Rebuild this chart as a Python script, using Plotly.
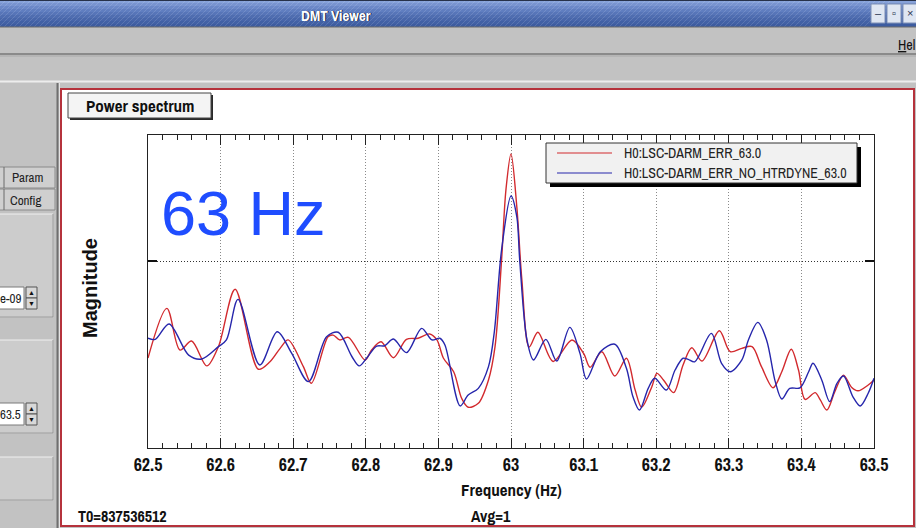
import plotly.graph_objects as go

W, H = 916, 528

# ---- spectrum samples (frequency in Hz, magnitude in display units) ----
freq_err = [62.500, 62.526, 62.544, 62.560, 62.581, 62.597, 62.620, 62.652, 62.668, 62.682,
            62.693, 62.714, 62.725, 62.748, 62.755, 62.764, 62.776, 62.799, 62.808, 62.821,
            62.838, 62.856, 62.872, 62.888, 62.898, 62.907, 62.921, 62.932, 62.941, 62.955,
            62.969, 62.978, 62.987, 62.993, 63.000, 63.008, 63.015, 63.025, 63.037, 63.058,
            63.084, 63.100, 63.109, 63.125, 63.143, 63.159, 63.171, 63.180, 63.194, 63.201,
            63.210, 63.224, 63.237, 63.249, 63.263, 63.287, 63.302, 63.318, 63.332, 63.345,
            63.361, 63.373, 63.386, 63.396, 63.405, 63.419, 63.426, 63.435, 63.446, 63.458,
            63.469, 63.478, 63.492, 63.500]
mag_err = [0.481, 0.747, 0.524, 0.572, 0.439, 0.542, 0.849, 0.421, 0.461, 0.533,
           0.578, 0.435, 0.346, 0.595, 0.604, 0.578, 0.592, 0.471, 0.524, 0.568,
           0.483, 0.581, 0.587, 0.610, 0.578, 0.480, 0.408, 0.266, 0.218, 0.239,
           0.364, 0.542, 1.005, 1.380, 1.572, 1.290, 0.898, 0.540, 0.619, 0.463,
           0.578, 0.506, 0.432, 0.515, 0.385, 0.480, 0.310, 0.218, 0.328, 0.399,
           0.364, 0.296, 0.444, 0.536, 0.465, 0.627, 0.515, 0.533, 0.542, 0.435,
           0.322, 0.408, 0.528, 0.417, 0.260, 0.296, 0.257, 0.203, 0.301, 0.390,
           0.325, 0.306, 0.337, 0.364]

freq_nohet = [62.500, 62.510, 62.529, 62.556, 62.574, 62.597, 62.608, 62.624, 62.654, 62.678,
              62.698, 62.721, 62.746, 62.762, 62.781, 62.791, 62.801, 62.815, 62.826, 62.838,
              62.856, 62.877, 62.891, 62.902, 62.909, 62.930, 62.941, 62.955, 62.969, 62.977,
              62.987, 63.000, 63.008, 63.012, 63.022, 63.031, 63.048, 63.063, 63.081, 63.095,
              63.104, 63.123, 63.143, 63.159, 63.168, 63.177, 63.189, 63.198, 63.214, 63.226,
              63.237, 63.244, 63.253, 63.276, 63.290, 63.302, 63.318, 63.327, 63.340, 63.352,
              63.364, 63.373, 63.384, 63.398, 63.410, 63.416, 63.428, 63.439, 63.449, 63.458,
              63.471, 63.481, 63.492, 63.500]
mag_nohet = [0.587, 0.581, 0.663, 0.497, 0.476, 0.542, 0.578, 0.795, 0.444, 0.622,
             0.506, 0.355, 0.595, 0.619, 0.488, 0.439, 0.480, 0.545, 0.547, 0.583,
             0.510, 0.640, 0.578, 0.587, 0.551, 0.225, 0.283, 0.319, 0.435, 0.620,
             1.059, 1.348, 1.237, 1.005, 0.578, 0.471, 0.581, 0.465, 0.645, 0.506,
             0.369, 0.515, 0.555, 0.426, 0.274, 0.203, 0.319, 0.373, 0.310, 0.417,
             0.480, 0.474, 0.461, 0.613, 0.453, 0.408, 0.471, 0.578, 0.672, 0.578,
             0.355, 0.262, 0.319, 0.322, 0.408, 0.453, 0.364, 0.248, 0.346, 0.385,
             0.274, 0.225, 0.293, 0.373]

assert len(freq_err) == len(mag_err) and len(freq_nohet) == len(mag_nohet)

series_names = ["H0:LSC-DARM_ERR_63.0", "H0:LSC-DARM_ERR_NO_HTRDYNE_63.0"]
series_colors = ["#d22a2e", "#2626ac"]

x_tick_vals = [62.5, 62.6, 62.7, 62.8, 62.9, 63.0, 63.1, 63.2, 63.3, 63.4, 63.5]
x_tick_labels = ["62.5", "62.6", "62.7", "62.8", "62.9", "63", "63.1", "63.2", "63.3", "63.4", "63.5"]
mag_grid_vals = [1.0]
x_range = [62.5, 63.5]
mag_range = [0.0, 1.674]

NARROW = "Archivo Narrow, Roboto Condensed, PT Sans Narrow, Liberation Sans, sans-serif"
SANS = "Liberation Sans, Arial, sans-serif"


def fx(x):
    return x / W


def fy(y):
    return 1 - y / H


shapes = []
annotations = []


def rect(x0, y0, x1, y1, fill, line=None, lw=0, layer="below"):
    shapes.append(dict(type="rect", xref="paper", yref="paper",
                       x0=fx(x0), x1=fx(x1), y0=fy(y1), y1=fy(y0),
                       fillcolor=fill, layer=layer,
                       line=dict(color=line or fill, width=lw)))


def seg(x0, y0, x1, y1, color, lw=1, layer="below"):
    shapes.append(dict(type="line", xref="paper", yref="paper",
                       x0=fx(x0), x1=fx(x1), y0=fy(y0), y1=fy(y1),
                       line=dict(color=color, width=lw), layer=layer))


def hline(x0, x1, y, color, lw=1, layer="below"):
    seg(x0, y, x1, y, color, lw, layer)


def vline(x, y0, y1, color, lw=1, layer="below"):
    seg(x, y0, x, y1, color, lw, layer)


def text(x, y, s, size, color="#111", family=NARROW, xanchor="left", yanchor="middle", angle=0):
    annotations.append(dict(x=fx(x), y=fy(y), xref="paper", yref="paper", text=s,
                            showarrow=False, xanchor=xanchor, yanchor=yanchor,
                            textangle=angle, font=dict(size=size, color=color, family=family)))


# ---- window chrome ----
GRAY = "#c2c2c2"
rect(0, 0, W, H, GRAY)

# title bar (vertical gradient with a fine diagonal hatch)
bar_cols = ["#86a2da", "#7894d0", "#6b88c8", "#607ec0", "#5775b8", "#4f6db0", "#4866aa", "#4261a5", "#3d5ca0"]
for i, c in enumerate(bar_cols):
    rect(0, i * 3, W, i * 3 + 3, c)
for hx in range(-26, 866, 5):
    seg(max(hx, 0) if hx >= 0 else 0, 27 if hx >= 0 else 27 + hx, hx + 26, 1,
        "rgba(255,255,255,0.13)", 1)
hline(0, W, 0.5, "#27324a", 1)
hline(0, W, 27, "#6a6a6a", 1)
text(337, 16, "<b>DMT Viewer</b>", 15, color="#1a2440", xanchor="center")
text(336, 15, "<b>DMT Viewer</b>", 15, color="#ffffff", xanchor="center")

# window buttons
for bx, glyph in [(871, "–"), (887, "▫"), (903, "×")]:
    rect(bx, 4, bx + 14, 23, "#dfe6f2", "#7d8fb5", 1)
    text(bx + 7, 13.5, glyph, 11, color="#2a3550", family=SANS, xanchor="center")

# menu bar + toolbar
hline(0, W, 54, "#8a8a8a", 2)
hline(0, W, 56, "#a8a8a8", 1)
hline(0, W, 81.5, "#ededed", 2)
text(917, 45, "<u>H</u>el", 14, color="#111", family=NARROW, xanchor="right")

# left control panel
vline(57.5, 83, H, "#6f6f6f", 2)
vline(59.5, 83, H, "#e4e4e4", 1)
rect(-2, 167, 55, 188, "#cfcfcf", "#8a8a8a", 1)
vline(4, 167, 188, "#6a6a6a", 1)
text(10, 177.5, "Param", 13, color="#222")
rect(-2, 189, 55, 210, "#cfcfcf", "#8a8a8a", 1)
vline(4, 189, 210, "#6a6a6a", 1)
text(8, 200, "Config", 13, color="#222")
for y0, y1 in [(214, 317), (340, 433), (457, 500)]:
    rect(-2, y0, 53, y1, "#cccccc", "#efefef", 1)
    vline(53, y0, y1, "#8c8c8c", 1)
    hline(-2, 53, y1, "#8c8c8c", 1)
for y0, label in [(287, "e-09"), (403, "63.5")]:
    rect(-2, y0, 24, y0 + 22, "#ffffff", "#7a7a7a", 1)
    text(23, y0 + 11, label, 13, color="#222", xanchor="right")
    rect(26, y0, 37, y0 + 11, "#d8d8d8", "#555", 1)
    rect(26, y0 + 11, 37, y0 + 22, "#d8d8d8", "#555", 1)
    text(31.5, y0 + 5.5, "▲", 7, color="#111", family=SANS, xanchor="center")
    text(31.5, y0 + 16.5, "▼", 7, color="#111", family=SANS, xanchor="center")

# graph panel with red frame
rect(61, 89, 914, 526, "#ffffff", "#b5323c", 2)

# "Power spectrum" tab
rect(70, 95, 213, 120, "#2a2a2a")
rect(68, 93, 211, 118, "#f4f4f4", "#444", 1)
text(139.5, 105, "<b>Power spectrum</b>", 17, xanchor="center")

# ---- axis and footer labels ----
text(90, 288, "<b>Magnitude</b>", 20, family=SANS, xanchor="center", angle=-90)
text(511, 489, "<b>Frequency (Hz)</b>", 17, xanchor="center")
text(76, 516, "<b>T0=837536512</b>", 16)
text(469, 516, "<b>Avg=1</b>", 16)

# frequency annotation in the plot
text(159, 213, "63 Hz", 63, color="#1f4dff", family=SANS)

# ---- legend (boxed, with drop shadow) ----
rect(550, 147, 861, 187, "#000000", layer="above")
rect(546, 143, 857, 183, "#f1f1f1", "#333333", 1, layer="above")
for i, (name, col) in enumerate(zip(series_names, series_colors)):
    ly = 153 + 20 * i
    hline(557, 612, ly, col, 1.2, layer="above")
    text(622, ly, name, 14, color="#222")

# ---- traces ----
fig = go.Figure()
for fr, mg, name, col in [(freq_err, mag_err, series_names[0], series_colors[0]),
                          (freq_nohet, mag_nohet, series_names[1], series_colors[1])]:
    fig.add_trace(go.Scatter(x=fr, y=mg, mode="lines", name=name,
                             line=dict(color=col, width=1.4, shape="spline", smoothing=0.9),
                             showlegend=False, hoverinfo="x+y+name"))

fig.update_layout(
    width=W, height=H,
    margin=dict(l=0, r=0, t=0, b=0, pad=0, autoexpand=False),
    paper_bgcolor=GRAY, plot_bgcolor="#ffffff",
    shapes=shapes, annotations=annotations,
    xaxis=dict(domain=[148 / W, 874 / W], range=x_range, automargin=False,
               tickmode="array", tickvals=x_tick_vals, ticktext=x_tick_labels,
               ticks="inside", ticklen=10, tickwidth=1, tickcolor="#222",
               showline=True, linecolor="#222", linewidth=1, mirror="allticks",
               showgrid=True, gridcolor="#8a8a8a", gridwidth=1, griddash="1px,2px",
               zeroline=False,
               tickfont=dict(family=NARROW, size=18, color="#111", weight="bold"),
               minor=dict(dtick=0.02, tick0=62.5, ticks="inside", ticklen=5,
                          tickcolor="#222", showgrid=False)),
    yaxis=dict(domain=[1 - 448 / H, 1 - 135 / H], range=mag_range, automargin=False,
               tickmode="array", tickvals=mag_grid_vals, showticklabels=False,
               ticks="inside", ticklen=9, tickwidth=1.5, tickcolor="#111",
               showline=True, linecolor="#222", linewidth=1, mirror="allticks",
               showgrid=True, gridcolor="#333333", gridwidth=1, griddash="1px,2px",
               zeroline=False),
)

fig.write_html("out.html")
